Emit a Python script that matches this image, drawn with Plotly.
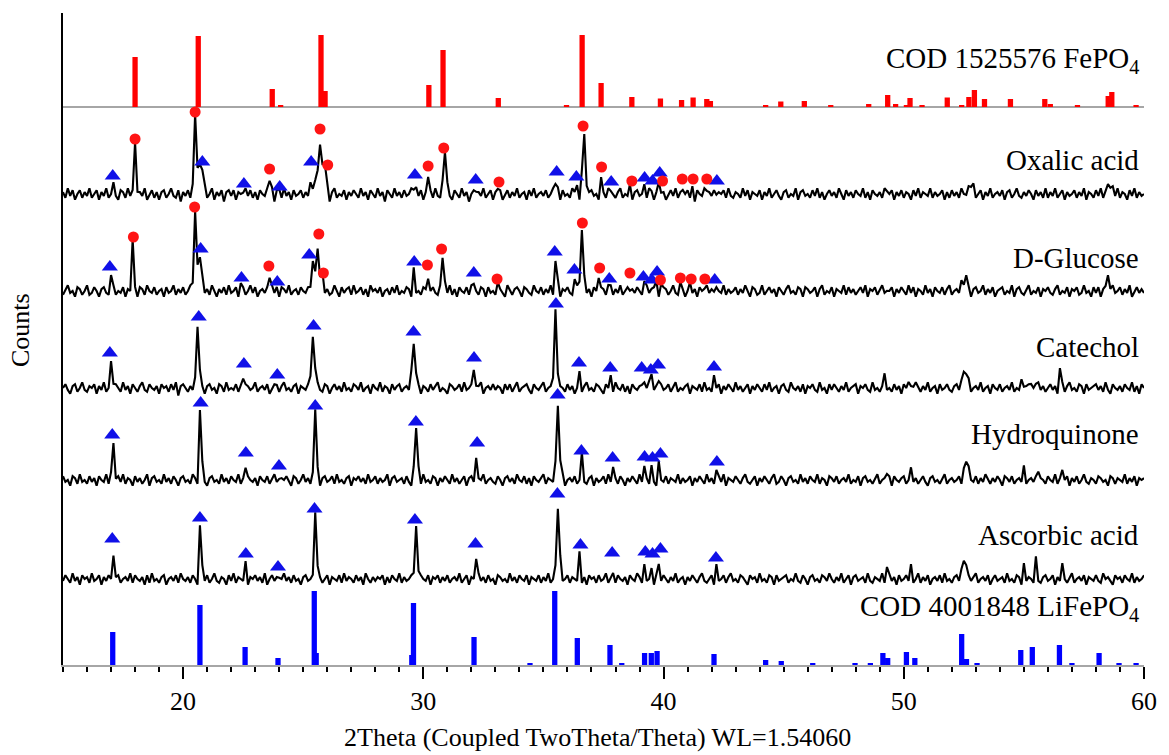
import numpy as np
import plotly.graph_objects as go

# ---------------- data ----------------
# 2-theta measurement grid (degrees), 0.1 step
two_theta = np.round(np.arange(150, 601) / 10.0, 1)

# reference stick patterns (position, relative intensity)
fepo4_pos = [18.0, 20.63, 23.71, 24.06, 25.74, 25.91, 30.23, 30.82, 33.12, 35.96, 36.61, 37.40,
             38.68, 39.87, 40.75, 41.23, 41.80, 41.95, 44.25, 44.88, 45.86, 46.96, 48.54, 49.33,
             49.66, 50.11, 50.26, 50.76, 51.81, 52.41, 52.71, 52.94, 53.36, 54.44, 55.87, 56.10,
             57.23, 58.51, 58.66, 59.67]
fepo4_int = [50, 71, 18, 2, 72, 16, 22, 57, 9, 2, 72, 24,
             10, 8.5, 7, 9.5, 8, 6, 2, 5.5, 6, 2, 3, 12,
             3, 2, 9, 2, 9.5, 2, 10, 17, 8, 8, 8, 3,
             2, 11, 15, 2]

lfp_pos = [17.07, 20.70, 22.58, 23.95, 25.46, 25.54, 29.52, 29.59, 32.11, 34.44, 35.47, 36.41,
           37.77, 38.26, 39.21, 39.49, 39.73, 42.10, 44.25, 44.90, 46.21, 47.97, 48.61, 49.13,
           49.33, 50.11, 50.46, 52.41, 52.61, 53.05, 54.87, 55.35, 56.48, 57.00, 58.13, 58.96,
           59.67]
lfp_int = [33, 60, 18, 7, 74, 12, 10, 62, 28, 2, 74, 27,
           20, 2, 12, 12, 14, 11, 5, 4, 2, 1.5, 1.5, 12,
           7, 13, 7, 31, 6, 2, 15, 18, 20, 2, 12, 2,
           2]

# background noise of each measured pattern on the 0.1 deg grid (one row per degree)
noise_oxalic = [
 1,-2,3,-1,2,-3,0,2,-2,1, -1,3,-2,0,2,-3,1,-1,3,-2, 0,2,-1,-3,2,1,-2,3,-1,0,
 2,-2,1,-1,3,-3,0,2,-2,1, -3,1,2,-2,0,3,-1,-2,2,-4, 1,-1,2,-2,0,1,-2,3,-1,2,
 -2,0,3,-3,1,-1,2,-4,1,2, -1,2,-3,1,0,-2,3,-1,2,-2, 1,-3,2,0,-1,3,-2,1,-4,2,
 0,-2,3,-1,1,-3,2,-1,0,2, -2,1,-1,3,-2,0,2,-3,1,-1, 2,-4,1,3,-2,0,-1,2,-3,1,
 -1,2,0,-2,3,-1,1,-3,2,0, -2,3,-1,1,-4,2,0,-2,3,-1, 1,-2,2,-1,0,3,-3,1,-1,2,
 -3,1,0,2,-2,3,-1,-2,1,0, 2,-1,-3,2,0,-2,3,-1,1,-4, 0,2,-2,1,-1,3,-2,0,2,-3,
 1,-1,2,-3,0,2,-2,1,-1,3, -2,0,1,-3,2,-1,3,-2,0,1, -1,2,-2,0,3,-1,1,-3,2,-1,
 0,-2,3,-1,1,-3,2,0,-2,1, 2,-1,0,-3,2,1,-2,3,-1,0, -2,1,3,-2,0,-1,2,-3,1,2,
 -1,0,2,-2,3,-1,-3,1,2,-2, 1,-3,0,2,-1,3,-2,1,-1,0, 2,-2,1,-4,2,0,-1,3,-2,1,
 -1,2,-3,1,0,2,-2,3,-1,-2, 1,0,-2,3,-1,2,-3,1,0,-1, 2,-3,1,-1,3,-2,0,2,-1,-3,
 1,2,-2,0,-1,3,-3,1,2,-1, 0,-2,2,-1,3,-2,1,-3,0,2, -1,1,-2,3,0,-3,2,-1,1,-2,
 2,0,-1,3,-2,1,-3,2,0,-1, 1,-2,3,-1,0,2,-3,1,-1,2, -2,1,0,-3,2,-1,3,-2,1,0,
 -1,3,-2,1,-1,0,2,-3,1,-2, 2,-1,1,-2,3,0,-2,1,-1,3, -2,0,2,-3,1,-1,3,-2,0,1,
 -1,2,-3,1,2,-2,0,3,-1,-2, 1,-1,2,0,-3,2,-1,1,-2,3, -2,1,-1,3,-2,0,2,-3,1,-1,
 0,2,-2,1,-1,3,-3,1,0,-2, 2,-1,3,-2,0,1,-2,2,-1,3, -2,1,0,-3,2,-1,3,-2,1,-1,
 0]
noise_glucose = [
 -2,1,3,-1,0,-3,2,1,-2,0, 3,-2,-1,2,0,-3,1,2,-1,-2, 1,3,-2,0,-1,2,-3,1,0,2,
 -1,-3,2,1,-2,3,0,-1,2,-2, 0,1,-3,2,-1,0,3,-2,1,-1, 2,-2,0,3,-1,1,-3,2,0,-1,
 1,-2,3,0,-3,1,-1,2,-2,3, -1,0,2,-3,1,2,-2,0,3,-1, 2,-3,0,1,-1,2,-2,3,-1,0,
 -3,2,1,-1,3,-2,0,1,-2,2, 0,-1,2,-2,1,3,-3,0,2,-1, 1,-2,-1,3,0,-3,2,-1,1,2,
 -2,3,-1,0,2,-2,1,-3,3,0, 1,-1,2,-3,0,1,-2,2,-1,3, -2,0,-1,2,1,-3,3,-1,0,-2,
 2,1,-3,0,2,-1,-2,3,-1,1, -1,3,-2,1,-3,2,0,-1,2,-2, 3,-1,0,-2,2,1,-3,2,-1,0,
 -2,2,1,-1,-3,3,0,-2,1,2, 0,-3,2,1,-1,-2,3,0,-1,2, -2,1,-1,3,-2,0,2,-3,1,0,
 2,-1,-2,1,3,-3,0,2,-1,1, -3,2,0,-1,2,1,-2,0,3,-2, 1,-1,3,-2,0,2,-3,1,-1,2,
 0,-2,1,3,-1,-2,2,0,-3,1, 2,1,-2,0,3,-1,-2,2,1,-3, 0,2,-1,1,-3,2,0,-2,3,-1,
 1,-3,2,0,-1,3,-2,1,-1,0, 2,-2,1,-1,3,0,-3,2,1,-2, -1,3,-2,0,2,-1,1,-3,2,0,
 -2,1,3,-1,0,-2,2,1,-3,2, 1,-1,0,2,-3,1,3,-2,0,-1, 2,-3,1,0,-1,3,-2,2,-1,1,
 -2,0,2,-1,3,-3,1,0,2,-2, 1,3,-1,-2,0,2,-3,1,-1,2, 0,-2,3,-1,2,-3,1,0,-2,3,
 -1,1,-3,2,0,-1,2,-2,1,3, -2,0,1,-1,3,-2,2,0,-3,1, 2,-1,0,3,-2,1,-1,2,-3,0,
 1,2,-2,0,-1,3,-3,1,2,-1, -2,1,3,-2,0,-1,2,-3,1,0, 2,-1,-2,1,3,-2,0,-1,2,-3,
 1,0,2,-2,-1,3,-1,0,-3,2, -1,2,-3,1,0,2,-2,3,-1,0, 2,-2,1,-1,3,-3,0,2,-1,1,
 -1]
noise_catechol = [
 0,2,-1,-3,1,2,-2,0,3,-1, -2,1,0,2,-3,1,-1,3,-2,0, 1,-1,2,0,-2,3,-1,1,-3,2,
 0,-2,1,3,-1,-2,2,0,-1,1, -3,2,0,1,-2,2,-1,3,-4,1, 2,0,-2,1,-1,3,-2,0,1,-3,
 1,2,-1,0,-3,2,1,-2,3,-1, 0,-1,2,-2,1,-3,2,1,-1,0, 3,-2,0,1,-1,2,-3,0,2,-1,
 -2,1,3,-1,0,-2,1,2,-3,1, 0,-1,2,1,-2,0,3,-1,-2,2, 1,-3,0,2,-1,1,-2,3,-1,0,
 -2,2,1,-1,3,-2,0,1,-3,2, 0,-1,3,-2,1,0,-3,2,-1,1, 2,-2,0,1,-1,3,-2,0,2,-3,
 1,0,-2,2,-1,1,3,-2,0,-1, -3,2,1,-1,0,2,-2,3,-1,0, 2,-1,-2,1,3,-3,0,1,-1,2,
 -1,1,0,-3,2,-1,2,-2,1,3, -2,0,1,2,-1,-3,2,0,-1,1, 3,-2,0,1,-1,2,-3,1,0,-2,
 2,-1,1,-3,0,2,-2,1,3,-1, 0,-2,2,1,-1,-3,2,0,1,-2, 3,0,-1,2,-2,1,-3,2,0,-1,
 1,-2,3,0,-1,2,-1,-3,1,2, -1,0,2,-2,1,3,-2,0,-1,1, 2,-3,1,0,-1,2,-2,3,-1,0,
 -2,1,0,2,-3,1,-1,2,0,-2, 3,-1,1,-2,0,2,-3,1,-1,2, 0,-2,2,-1,3,-2,0,1,-3,1,
 2,-1,-2,3,0,-1,1,-2,2,-3, 1,0,2,-1,-2,3,-1,0,-3,2, -1,2,0,-2,1,-1,3,-2,0,1,
 2,-3,1,0,2,-1,-2,3,-1,0, -2,1,3,-1,0,-2,2,-1,1,-3, 2,0,-1,1,-2,3,0,-2,1,-1,
 3,-2,0,1,-3,2,-1,0,2,-1, -2,1,2,-1,0,-3,1,2,-2,0, 1,-1,3,-2,0,1,-3,2,0,-1,
 2,-2,0,1,-1,3,-2,0,-1,2, -3,1,2,-1,0,-2,3,-1,1,-2, 0,2,-1,1,-3,2,0,-2,1,3,
 -1,0,-2,2,1,-3,2,-1,0,1, 2,-1,1,-2,3,-1,-3,2,0,-1, 1,-2,2,0,-1,3,-2,1,-3,2,
 0]
noise_hydroquinone = [
 2,-1,0,-3,2,1,-2,3,-1,0, -2,2,-1,1,-3,2,0,-1,3,-2, 1,0,-2,2,-1,3,-2,1,0,-3,
 2,-1,1,-2,0,3,-3,1,2,-1, 0,-2,3,-1,1,-2,2,0,-3,1, 2,-1,0,-2,3,1,-2,0,2,-1,
 -3,1,2,-1,0,-2,3,-1,1,-2, 2,0,-1,3,-2,1,-3,2,0,-1, 1,-3,2,0,-1,2,-2,1,3,-1,
 -2,1,0,2,-1,-3,2,1,-2,0, 3,-1,1,-2,0,2,-1,-3,1,2, -1,0,2,-2,3,-1,0,-2,1,2,
 -3,1,0,2,-1,1,-2,3,-1,0, 2,-2,1,-1,0,3,-3,1,2,-1, 0,1,-2,2,-1,-3,2,0,1,-2,
 3,-1,0,-2,2,1,-3,1,-1,2, 0,-2,3,-1,1,-2,0,2,-3,1, 2,-1,-2,1,0,3,-2,0,1,-1,
 -2,2,0,-3,1,2,-1,1,-2,3, 0,-1,2,-2,1,-3,2,0,-1,1, 3,-2,1,0,-1,2,-2,1,3,-3,
 0,1,-1,2,-2,0,3,-1,-2,1, 2,-3,1,-1,0,2,-2,3,-1,0, 1,-2,2,0,-3,1,-1,2,0,-2,
 3,-1,0,1,-2,2,-1,-3,2,0, -1,2,-2,1,0,-1,3,-2,1,-1, 0,2,-3,1,-1,2,0,-2,3,-1,
 1,-2,0,2,-1,3,-3,1,0,-1, 2,0,-2,1,3,-1,-2,0,2,-3, 1,-1,2,0,-2,1,3,-2,-1,2,
 0,-3,1,2,-1,0,-2,3,-1,1, -2,2,0,-1,3,-2,1,0,-3,2, 1,-1,2,-2,0,1,-1,3,-2,0,
 -1,2,-3,1,2,-1,0,-2,1,3, -2,0,1,-1,2,-3,2,0,-1,1, 2,-2,0,3,-1,1,-2,0,2,-1,
 -3,1,2,-1,0,-2,1,3,-2,0, 1,-1,0,2,-2,1,-3,2,0,-1, 2,-2,1,-1,3,0,-2,1,-1,2,
 0,-3,2,1,-1,2,-2,0,1,-1, 3,-2,0,1,-1,2,-3,1,0,-2, 2,0,-1,3,-2,1,-1,0,2,-3,
 1,-1,2,-2,0,3,-1,-2,1,0, -2,2,1,-1,0,-3,2,1,-2,1, 0,-1,3,-2,1,-1,2,-3,1,0,
 1]
noise_ascorbic = [
 -1,2,0,-2,3,-1,1,-3,2,0, 1,-2,3,-1,0,2,-3,1,-1,2, 0,-3,1,2,-2,0,1,-1,3,-2,
 2,0,-1,1,-3,2,-2,3,-1,0, -2,1,2,-3,0,1,-1,2,-2,3, 0,-1,1,-2,2,0,-3,2,1,-1,
 2,-2,0,3,-1,-2,1,0,-3,2, -1,3,-2,1,0,-1,2,-3,1,0, 2,-1,1,-2,3,-3,0,2,-1,1,
 -2,0,3,-1,1,-2,2,-1,0,-3, 1,2,-1,0,-2,3,-1,1,-2,0, 2,-3,1,0,-1,2,-2,3,-1,1,
 0,-2,2,-1,1,-3,3,0,-2,1, -1,1,0,2,-3,1,-2,2,0,-1, 3,-2,1,-1,0,2,-3,1,-1,2,
 0,-1,2,-3,1,0,2,-2,1,-1, 2,-2,0,1,-1,3,-2,0,2,-3, 1,0,-2,3,-1,1,-2,2,-1,0,
 -3,2,1,-1,0,-2,3,-1,1,-2, 2,0,-1,2,-3,1,0,-1,2,-2, 1,-1,3,-2,0,1,-3,2,-1,0,
 2,-2,1,0,-1,3,-2,1,-3,2, 0,1,-2,2,-1,0,3,-2,1,-1, -2,2,0,-1,1,-3,2,0,-1,3,
 1,-2,2,-1,0,1,-3,2,0,-1, 2,0,-2,1,-1,3,-2,0,1,-3, 1,-1,2,0,-2,1,3,-1,-2,0,
 2,-3,1,-1,0,2,-2,1,3,-1, 0,-2,2,1,-1,-3,2,0,1,-2, 3,-1,0,-2,2,1,-3,2,-1,0,
 1,2,-2,0,-1,3,-1,-2,2,0, -3,1,2,-1,0,-2,2,1,-1,3, 0,-2,1,-1,3,-2,0,2,-3,1,
 2,-1,0,1,-2,3,-1,-2,1,0, -1,3,-2,0,2,-1,1,-3,2,-1, 0,2,-1,1,-2,0,3,-2,1,-1,
 2,-3,0,1,-1,2,-2,3,-1,0, -2,1,2,-1,0,-3,1,2,-1,1, 3,-2,0,1,-1,2,-3,0,2,-1,
 0,1,-2,3,-1,0,-2,2,1,-3, 2,-1,1,0,-2,3,-1,-2,1,2, -1,0,2,-3,1,-1,2,0,-2,1,
 3,-2,0,1,-1,2,-3,1,0,-1, 2,-1,-2,3,0,1,-1,-3,2,0, 1,-2,2,0,-1,3,-2,1,-1,0,
 2]

# diffraction peaks of each measured pattern (2-theta, height above background)
oxalic_pk_x = [17.1, 17.9, 18.0, 18.1, 20.4, 20.5, 20.6, 20.7, 20.8, 20.9, 22.5, 23.6, 23.7, 24.0,
               25.3, 25.4, 25.5, 25.6, 25.7, 25.8, 25.9, 26.0, 29.6, 29.7, 30.2, 30.8, 30.9, 31.0,
               32.2, 33.1, 35.5, 35.6, 36.3, 36.4, 36.6, 36.7, 36.8, 37.4, 37.8, 38.6, 39.2, 39.5,
               39.8, 39.9, 40.8, 41.2, 41.8, 42.2, 49.3, 52.6, 52.7, 52.8, 52.9, 58.4, 58.5, 58.6, 58.7]
oxalic_pk_h = [8, 4, 48, 6, 10, 78, 30, 24, 26, 8, 5, 17, 5, 5,
               6, 9, 14, 20, 55, 28, 32, 8, 10, 5, 17, 12, 42, 8,
               6, 7, 12, 5, 4, 7, 20, 60, 12, 13, 5, 6, 6, 5,
               8, 5, 6, 6, 7, 5, 5, 3, 6, 9, 5, 4, 8, 10, 4]
glucose_pk_x = [17.0, 17.9, 18.0, 20.4, 20.5, 20.6, 20.7, 20.8, 22.4, 23.6, 23.9, 25.3, 25.4, 25.5,
                25.6, 25.7, 25.8, 29.6, 30.2, 30.8, 30.9, 32.1, 33.1, 35.5, 35.6, 36.3, 36.5, 36.6,
                36.7, 37.3, 37.7, 38.6, 39.2, 39.5, 39.7, 39.9, 40.7, 41.1, 41.7, 42.1, 49.3, 52.4,
                52.5, 52.6, 52.7, 58.4, 58.5, 58.6]
glucose_pk_h = [14, 48, 6, 10, 78, 32, 30, 18, 6, 17, 4, 8, 28, 14,
                48, 14, 15, 18, 18, 35, 8, 9, 5, 30, 8, 10, 15, 61,
                12, 15, 6, 6, 8, 6, 10, 5, 5, 5, 6, 5, 4, 5,
                10, 12, 6, 5, 12, 6]
catechol_pk_x = [17.0, 17.1, 20.5, 20.6, 20.7, 22.5, 23.9, 25.3, 25.4, 25.5, 29.5, 29.6, 29.7,
                 32.1, 32.2, 35.4, 35.5, 35.6, 36.5, 37.8, 39.1, 39.4, 39.5, 39.7, 39.8, 42.1,
                 49.2, 50.2, 50.4, 52.4, 52.5, 52.6, 52.7, 54.9, 55.0, 55.3, 55.5, 56.5, 56.6]
catechol_pk_h = [25, 6, 5, 65, 18, 15, 5, 10, 55, 20, 12, 48, 15,
                 20, 6, 12, 75, 20, 13, 11, 7, 9, 10, 8, 5, 11,
                 9, 8, 5, 8, 22, 12, 6, 5, 7, 6, 8, 16, 6]
hydroquinone_pk_x = [17.0, 17.1, 17.2, 20.7, 20.8, 22.6, 24.0, 25.4, 25.5, 25.6, 29.6, 29.7, 29.8,
                     32.2, 35.5, 35.6, 35.7, 36.6, 37.9, 39.2, 39.5, 39.8, 42.2, 49.3, 50.3,
                     52.5, 52.6, 52.7, 55.0, 55.6, 56.6]
hydroquinone_pk_h = [6, 37, 5, 70, 15, 18, 5, 8, 67, 15, 10, 52, 12,
                     26, 15, 78, 18, 22, 13, 14, 11, 15, 10, 8, 7,
                     10, 24, 10, 9, 14, 12]
ascorbic_pk_x = [17.1, 20.7, 20.8, 22.6, 24.0, 25.4, 25.5, 25.6, 29.6, 29.7, 29.8, 32.2,
                 35.5, 35.6, 35.7, 36.5, 37.9, 39.2, 39.5, 39.8, 42.2, 49.3, 50.3, 52.4,
                 52.5, 52.6, 55.0, 55.5, 56.6]
ascorbic_pk_h = [29, 50, 12, 14, 5, 8, 61, 15, 12, 51, 10, 24,
                 12, 76, 20, 22, 8, 11, 9, 15, 13, 12, 13, 10,
                 24, 12, 12, 17, 12]

# phase markers: FePO4 (red dots) and LiFePO4 (blue triangles), height above background
oxalic_dot_x = [18.0, 20.5, 23.6, 25.7, 26.02, 30.2, 30.85, 33.15, 36.65, 37.42, 38.68, 39.96, 40.78, 41.23, 41.80]
oxalic_dot_h = [55, 82, 25, 65, 29, 28, 46, 12, 68, 27, 13, 13, 15, 15, 15]
oxalic_tri_x = [17.07, 20.8, 22.53, 24.02, 25.33, 29.65, 32.18, 35.55, 36.37, 37.82, 39.21, 39.54, 39.84, 42.22]
oxalic_tri_h = [18, 32, 10, 7, 32, 19, 14, 22, 17, 12, 16, 13, 21, 13]
glucose_dot_x = [17.93, 20.48, 23.57, 25.65, 25.84, 30.17, 30.76, 33.07, 36.62, 37.34, 38.6, 39.87, 40.70, 41.15, 41.72]
glucose_dot_h = [54, 84, 25, 57, 18, 26, 42, 12, 68, 23, 18, 11, 13, 12, 12]
glucose_tri_x = [16.95, 20.73, 22.43, 23.92, 25.25, 29.62, 32.1, 35.47, 36.29, 37.74, 39.16, 39.51, 39.73, 42.13]
glucose_tri_h = [24, 42, 13, 9, 36, 29, 18, 39, 21, 12, 14, 11, 19, 11]
catechol_tri_x = [16.95, 20.65, 22.53, 23.92, 25.43, 29.59, 32.11, 35.52, 36.48, 37.78, 39.09, 39.47, 39.77, 42.1]
catechol_tri_h = [35, 71, 24, 13, 62, 56, 30, 84, 25, 20, 20, 18, 23, 21]
hydroquinone_tri_x = [17.05, 20.73, 22.61, 23.99, 25.5, 29.69, 32.24, 35.59, 36.58, 37.88, 39.21, 39.54, 39.87, 42.22]
hydroquinone_tri_h = [45, 77, 27, 14, 74, 58, 37, 85, 29, 22, 23, 22, 26, 18]
ascorbic_tri_x = [17.05, 20.7, 22.61, 23.95, 25.47, 29.65, 32.17, 35.58, 36.54, 37.86, 39.24, 39.54, 39.87, 42.18]
ascorbic_tri_h = [40, 61, 25, 12, 70, 59, 35, 85, 34, 26, 27, 25, 30, 21]

labels = ["COD 1525576 FePO<sub>4</sub>", "Oxalic acid", "D-Glucose", "Catechol",
          "Hydroquinone", "Ascorbic acid", "COD 4001848 LiFePO<sub>4</sub>"]

# ---------------- layout / styling ----------------
W, H = 1169, 755
ML, MR, MT, MB = 63, 22, 13, 90
YMAX = H - MT - MB  # y axis in stacked-offset units
# vertical offsets of the stacked patterns
OFF_FEPO4, OFF_OX, OFF_GLU, OFF_CAT, OFF_HQ, OFF_ASC, OFF_LFP = 558, 471, 374, 277, 185, 86, 0
label_y = [605, 505, 407, 318, 231, 130, 57]
BG_UNIT = 1.9  # plot units per background-count unit

SERIF = "Liberation Serif, Times New Roman, serif"
RED = "#ff0000"
BLUE = "#0000ff"
DOT = "#ff1414"
TRI = "#1010e8"


def pattern(noise, pk_x, pk_h):
    y = np.zeros(len(two_theta))
    n = min(len(noise), len(y))
    y[:n] = np.array(noise[:n], dtype=float) * BG_UNIT
    for px, ph in zip(pk_x, pk_h):
        i = int(round((px - 15.0) * 10))
        if 0 <= i < len(y):
            y[i] += ph
    return y


fig = go.Figure()

fig.add_trace(go.Bar(x=fepo4_pos, y=fepo4_int, base=OFF_FEPO4, width=0.22,
                     marker=dict(color=RED, line=dict(width=0)), hoverinfo="skip"))
fig.add_trace(go.Bar(x=lfp_pos, y=lfp_int, base=OFF_LFP, width=0.22,
                     marker=dict(color=BLUE, line=dict(width=0)), hoverinfo="skip"))

curves = [
    (noise_oxalic, oxalic_pk_x, oxalic_pk_h, OFF_OX),
    (noise_glucose, glucose_pk_x, glucose_pk_h, OFF_GLU),
    (noise_catechol, catechol_pk_x, catechol_pk_h, OFF_CAT),
    (noise_hydroquinone, hydroquinone_pk_x, hydroquinone_pk_h, OFF_HQ),
    (noise_ascorbic, ascorbic_pk_x, ascorbic_pk_h, OFF_ASC),
]
for nz, px, ph, off in curves:
    fig.add_trace(go.Scatter(x=two_theta, y=pattern(nz, px, ph) + off, mode="lines",
                             line=dict(color="black", width=2.1), hoverinfo="skip"))

tris = [(oxalic_tri_x, oxalic_tri_h, OFF_OX), (glucose_tri_x, glucose_tri_h, OFF_GLU),
        (catechol_tri_x, catechol_tri_h, OFF_CAT), (hydroquinone_tri_x, hydroquinone_tri_h, OFF_HQ),
        (ascorbic_tri_x, ascorbic_tri_h, OFF_ASC)]
for tx, th, off in tris:
    fig.add_trace(go.Scatter(x=tx, y=np.array(th) + off, mode="markers",
                             marker=dict(symbol="triangle-up", size=14, color=TRI, line=dict(width=0))))
dots = [(oxalic_dot_x, oxalic_dot_h, OFF_OX), (glucose_dot_x, glucose_dot_h, OFF_GLU)]
for dx, dh, off in dots:
    fig.add_trace(go.Scatter(x=dx, y=np.array(dh) + off, mode="markers",
                             marker=dict(symbol="circle", size=11, color=DOT, line=dict(width=0))))

# grey baseline of the top stick pattern
fig.add_shape(type="line", xref="x domain", x0=0, x1=1, yref="y", y0=OFF_FEPO4, y1=OFF_FEPO4,
              line=dict(color="#a6a6a6", width=2), layer="below")

for txt, ly in zip(labels, label_y):
    fig.add_annotation(text=txt, xref="paper", x=(1144 - ML) / (W - ML - MR), xanchor="right",
                       yref="y", y=ly, yanchor="middle", showarrow=False,
                       font=dict(family=SERIF, size=29, color="black"))

fig.add_annotation(text="2Theta (Coupled TwoTheta/Theta) WL=1.54060", xref="paper",
                   x=(599 - ML) / (W - ML - MR), xanchor="center", yref="paper",
                   y=-(737 - (H - MB)) / YMAX, yanchor="middle", showarrow=False,
                   font=dict(family=SERIF, size=26, color="black"))
fig.add_annotation(text="Counts", xref="paper", x=(20 - ML) / (W - ML - MR), xanchor="center",
                   yref="paper", y=((H - MB) - 330) / YMAX, yanchor="middle", textangle=-90,
                   showarrow=False, font=dict(family=SERIF, size=26, color="black"))

fig.update_layout(
    width=W, height=H, margin=dict(l=ML, r=MR, t=MT, b=MB),
    paper_bgcolor="white", plot_bgcolor="white", showlegend=False, barmode="overlay",
    xaxis=dict(range=[15, 60], tick0=0, dtick=10, ticks="outside", ticklen=12, tickwidth=1.5,
               tickcolor="black", showline=True, linecolor="#a6a6a6", linewidth=2,
               showgrid=False, zeroline=False,
               tickfont=dict(family=SERIF, size=26, color="black"),
               minor=dict(dtick=1, ticks="outside", ticklen=5, tickwidth=1.5, tickcolor="black",
                          showgrid=False)),
    yaxis=dict(range=[0, YMAX], showline=True, linecolor="black", linewidth=1.5,
               showticklabels=False, ticks="", showgrid=False, zeroline=False),
)

fig.write_html("out.html")
